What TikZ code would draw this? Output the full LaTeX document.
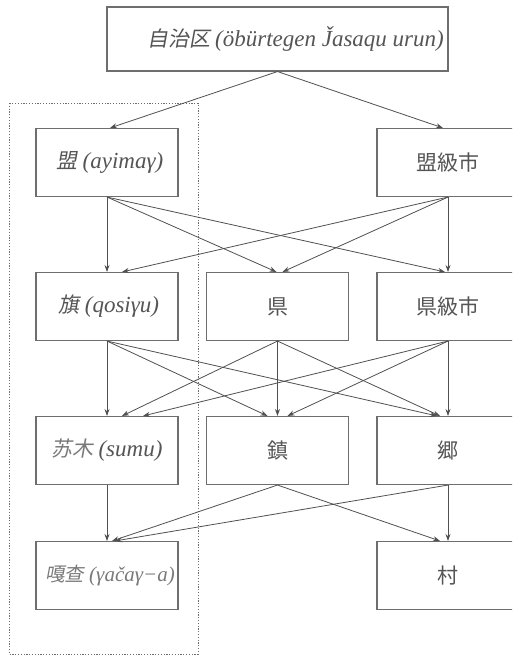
\documentclass[tikz,border=0pt]{standalone}
\usepackage{fontspec}
\setmainfont{Liberation Serif}
\newfontfamily\cjk{Noto Sans CJK JP}
\newfontfamily\cjksl[FakeSlant=0.18]{Noto Sans CJK JP}
\usetikzlibrary{arrows.meta}
\definecolor{boxline}{HTML}{6E6E6E}
\definecolor{arrline}{HTML}{505050}
\definecolor{txt}{HTML}{555555}
\definecolor{lighttxt}{HTML}{7A7A7A}
\newcommand{\lat}[1]{{\fontsize{23}{26}\selectfont\itshape #1}}
\newcommand{\latsm}[1]{{\fontsize{21}{24}\selectfont\itshape #1}}
\newcommand{\cj}[1]{{\fontsize{21}{24}\selectfont\cjk #1}}
\newcommand{\cjs}[1]{{\fontsize{21}{24}\selectfont\cjksl #1}}
\newcommand{\cjssm}[1]{{\fontsize{19.5}{22}\selectfont\cjksl #1}}
\newcommand{\gap}{\hspace{5pt}}
\begin{document}
\begin{tikzpicture}[x=1pt,y=-1pt,
  box/.style={draw=boxline,line width=1.1pt,minimum width=142pt,minimum height=68pt,inner sep=0pt,text=txt,fill=white},
  topbox/.style={box,minimum width=341pt,minimum height=64pt},
  arr/.style={draw=arrline,line width=0.8pt,-{Stealth[length=7pt,width=5pt]}},
  group/.style={draw=boxline,line width=0.7pt,dash pattern=on 1.2pt off 1.6pt}
]
\clip (0,0) rectangle (512,656);
\draw[group] (9,103) rectangle (198,654);

\node[topbox] (zz) at (277.5,39) {\hspace*{36pt}\cjs{自治区}\gap\lat{(öbürtegen \v{J}asaqu urun)}};

\node[box] (meng) at (107,162.5) {\hspace*{6pt}\cjs{盟}\gap\lat{(ayimaγ)}};
\node[box] (mengshi) at (448,162.5) {\cj{盟級市}};

\node[box] (qi) at (107,306.5) {\hspace*{4pt}\cjs{旗}\gap\lat{(qosiγu)}};
\node[box] (xian) at (277.5,306.5) {\cj{県}};
\node[box] (xianshi) at (448,306.5) {\cj{県級市}};

\node[box] (sumu) at (107,450.5) {{\color{lighttxt}\cjs{苏木}}\gap\lat{(sumu)}};
\node[box] (zhen) at (277.5,450.5) {\cj{鎮}};
\node[box] (xiang) at (448,450.5) {\cj{郷}};

\node[box] (gacha) at (107,575.5) {\hspace*{6pt}\color{lighttxt}\cjssm{嘎查}\gap\latsm{(γačaγ−a)}};
\node[box] (cun) at (448,575.5) {\cj{村}};

% top level
\draw[arr] (zz.south) -- ([xshift=3pt]meng.north);
\draw[arr] (zz.south) -- ([xshift=-5pt]mengshi.north);

% row 1 -> row 2
\draw[arr] (meng.south) -- (qi.north);
\draw[arr] (meng.south) -- ([xshift=-1pt]xian.north);
\draw[arr] (meng.south) -- ([xshift=-3pt]xianshi.north);
\draw[arr] (mengshi.south) -- ([xshift=15pt]qi.north);
\draw[arr] (mengshi.south) -- ([xshift=5pt]xian.north);
\draw[arr] (mengshi.south) -- (xianshi.north);

% row 2 -> row 3
\draw[arr] (qi.south) -- (sumu.north);
\draw[arr] (qi.south) -- ([xshift=-10pt]zhen.north);
\draw[arr] (qi.south) -- ([xshift=-11pt]xiang.north);
\draw[arr] (xian.south) -- ([xshift=15pt]sumu.north);
\draw[arr] (xian.south) -- (zhen.north);
\draw[arr] (xian.south) -- ([xshift=-8pt]xiang.north);
\draw[arr] (xianshi.south) -- ([xshift=36pt]sumu.north);
\draw[arr] (xianshi.south) -- ([xshift=10pt]zhen.north);
\draw[arr] (xianshi.south) -- (xiang.north);

% row 3 -> row 4
\draw[arr] (sumu.south) -- (gacha.north);
\draw[arr] (zhen.south) -- ([xshift=5pt]gacha.north);
\draw[arr] (zhen.south) -- ([xshift=-8pt]cun.north);
\draw[arr] (xiang.south) -- ([xshift=8pt]gacha.north);
\draw[arr] (xiang.south) -- (cun.north);
\end{tikzpicture}
\end{document}
